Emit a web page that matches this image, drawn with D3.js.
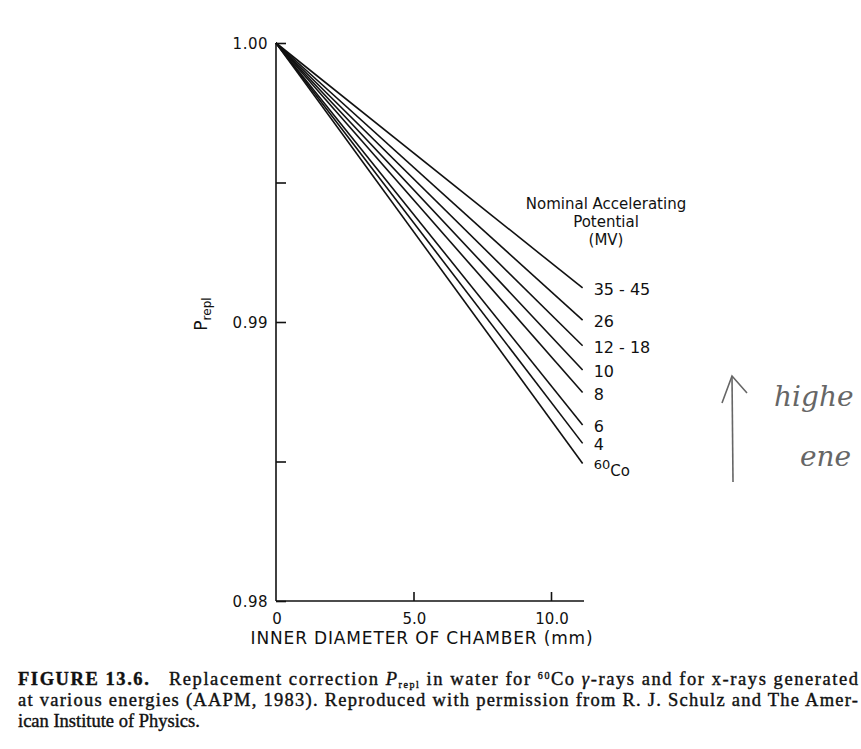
<!DOCTYPE html>
<html>
<head>
<meta charset="utf-8">
<script src="https://cdn.jsdelivr.net/npm/d3@7"></script>
<style>
  body { margin: 0; background: #fff; }
  svg { display: block; }
  .tick-label { font-family: "DejaVu Sans", sans-serif; font-size: 15px; fill: #111; }
  .caption { font-family: "Liberation Serif", serif; font-size: 18.5px; fill: #111; stroke: #111; stroke-width: 0.4px; }
</style>
</head>
<body>
<svg id="chart" width="861" height="749"></svg>
<script>
// data
const diameters = [0, 11.15];            // mm, every line starts at 0 and ends at ~11.15
const seriesLabels = ["35 - 45", "26", "12 - 18", "10", "8", "6", "4", "60Co"];
const startValues = [1.0, 1.0, 1.0, 1.0, 1.0, 1.0, 1.0, 1.0];
const endValues = [0.99122, 0.99007, 0.98915, 0.98828, 0.98747, 0.98631, 0.98565, 0.98493];
const yTickValues = [0.98, 0.985, 0.99, 0.995, 1.0];
const yTickLabels = ["0.98", "", "0.99", "", "1.00"];
const xTickValues = [0, 5, 10];
const xTickLabels = ["0", "5.0", "10.0"];

const svg = d3.select("#chart");
svg.append("rect").attr("width", 861).attr("height", 749).attr("fill", "#fff");

// scales
const x = d3.scaleLinear().domain([0, 10]).range([276, 551]);
const y = d3.scaleLinear().domain([0.98, 1.0]).range([601, 43]);

const axisG = svg.append("g").attr("stroke", "#111").attr("stroke-width", 1.6);

// y axis
const yAxis = d3.axisRight(y)
    .tickValues(yTickValues)
    .tickSize(10)
    .tickFormat("");
svg.append("g")
   .attr("transform", `translate(${x(0)},0)`)
   .call(yAxis)
   .call(g => g.select(".domain").remove())
   .call(g => g.selectAll("line").attr("stroke", "#111").attr("stroke-width", 1.6));

axisG.append("line")
     .attr("x1", x(0)).attr("x2", x(0))
     .attr("y1", y(1.0)).attr("y2", y(0.98));

svg.selectAll(".ylab")
   .data(yTickValues)
   .enter().append("text")
   .attr("class", "tick-label")
   .attr("x", x(0) - 8)
   .attr("y", d => y(d) + 6)
   .attr("text-anchor", "end")
   .style("letter-spacing", "0.5px")
   .text((d, i) => yTickLabels[i]);

// x axis
const xAxis = d3.axisTop(x)
    .tickValues(xTickValues.filter(d => d > 0))
    .tickSize(9)
    .tickFormat("");
svg.append("g")
   .attr("transform", `translate(0,${y(0.98)})`)
   .call(xAxis)
   .call(g => g.select(".domain").remove())
   .call(g => g.selectAll("line").attr("stroke", "#111").attr("stroke-width", 1.6));

axisG.append("line")
     .attr("x1", x(0)).attr("x2", x(11.2))
     .attr("y1", y(0.98)).attr("y2", y(0.98));

svg.selectAll(".xlab")
   .data(xTickValues)
   .enter().append("text")
   .attr("class", "tick-label")
   .attr("x", d => x(d) + 1)
   .attr("y", y(0.98) + 23)
   .attr("text-anchor", "middle")
   .text((d, i) => xTickLabels[i]);

// axis titles
svg.append("text")
   .attr("x", 422)
   .attr("y", 644)
   .attr("text-anchor", "middle")
   .style("font-family", "DejaVu Sans, sans-serif")
   .style("font-size", "17px")
   .style("letter-spacing", "0.85px")
   .attr("fill", "#111")
   .text("INNER DIAMETER OF CHAMBER (mm)");

const yTitle = svg.append("text")
   .attr("transform", "translate(207,314) rotate(-90)")
   .attr("text-anchor", "middle")
   .style("font-family", "DejaVu Sans, sans-serif")
   .style("font-size", "17px")
   .attr("fill", "#111");
yTitle.append("tspan").text("P");
yTitle.append("tspan").attr("dy", 4).style("font-size", "12px").text("repl");

// lines
const lineData = seriesLabels.map((name, i) => ({
  name,
  points: [[diameters[0], startValues[i]], [diameters[1], endValues[i]]]
}));

const line = d3.line().x(d => x(d[0])).y(d => y(d[1]));

svg.selectAll(".series")
   .data(lineData)
   .enter().append("path")
   .attr("class", "series")
   .attr("d", d => line(d.points))
   .attr("fill", "none")
   .attr("stroke", "#111")
   .attr("stroke-width", 1.6);

// line labels
const labelX = x(diameters[1]) + 11;
svg.selectAll(".serlab")
   .data(lineData)
   .enter().append("text")
   .attr("class", "serlab")
   .attr("x", labelX)
   .attr("y", d => y(d.points[1][1]) + 7)
   .style("font-family", "DejaVu Sans, sans-serif")
   .style("font-size", "16px")
   .attr("fill", "#111")
   .each(function(d) {
     const t = d3.select(this);
     if (d.name === "60Co") {
       t.attr("y", y(d.points[1][1]) + 6);
       t.append("tspan").style("font-size", "13px").text("60");
       t.append("tspan").attr("dy", 7).style("font-size", "15px").text("Co");
     } else {
       t.text(d.name);
     }
   });

// legend title
const legendLines = ["Nominal Accelerating", "Potential", "(MV)"];
svg.selectAll(".legtitle")
   .data(legendLines)
   .enter().append("text")
   .attr("x", 606)
   .attr("y", (d, i) => 209 + i * 18)
   .attr("text-anchor", "middle")
   .style("font-family", "DejaVu Sans, sans-serif")
   .style("font-size", "15px")
   .attr("fill", "#111")
   .text(d => d);

// handwritten note at the right edge
const note = svg.append("g").attr("stroke", "#666").attr("fill", "none").attr("stroke-width", 1.6);
note.append("path").attr("d", "M733,482 L732,376");
note.append("path").attr("d", "M722,403 L732,376 L747,393");
svg.append("text")
   .attr("x", 774).attr("y", 406)
   .style("font-family", "DejaVu Serif, serif")
   .style("font-style", "italic")
   .style("font-size", "28px")
   .attr("fill", "#666")
   .text("highe");
svg.append("text")
   .attr("x", 800).attr("y", 466)
   .style("font-family", "DejaVu Serif, serif")
   .style("font-style", "italic")
   .style("font-size", "28px")
   .attr("fill", "#666")
   .text("ene");

// caption
const cap1 = svg.append("text").attr("class", "caption")
   .attr("x", 18).attr("y", 685)
   .attr("textLength", 840).attr("lengthAdjust", "spacing");
cap1.append("tspan").style("font-weight", "bold").text("FIGURE 13.6.");
cap1.append("tspan").text("\u00a0\u00a0 Replacement correction ");
cap1.append("tspan").style("font-style", "italic").text("P");
cap1.append("tspan").attr("dy", 3).style("font-size", "10px").text("repl");
cap1.append("tspan").attr("dy", -3).text(" in water for ");
cap1.append("tspan").attr("dy", -6).style("font-size", "10px").text("60");
cap1.append("tspan").attr("dy", 6).text("Co ");
cap1.append("tspan").style("font-style", "italic").text("\u03b3");
cap1.append("tspan").text("-rays and for x-rays generated");

svg.append("text").attr("class", "caption")
   .attr("x", 18).attr("y", 706)
   .attr("textLength", 840).attr("lengthAdjust", "spacing")
   .text("at various energies (AAPM, 1983). Reproduced with permission from R. J. Schulz and The Amer-");

svg.append("text").attr("class", "caption")
   .attr("x", 18).attr("y", 727)
   .text("ican Institute of Physics.");
</script>
</body>
</html>
